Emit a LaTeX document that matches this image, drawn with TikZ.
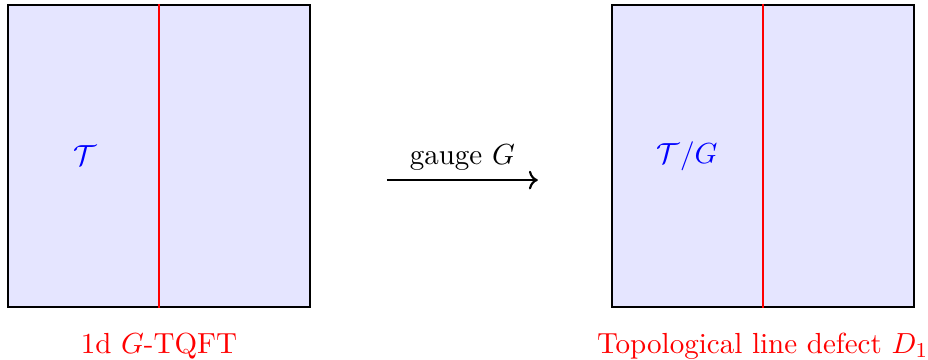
\documentclass[tikz,border=0pt]{standalone}
\usepackage{amsmath}
\usepackage{amssymb}
\usetikzlibrary{positioning, arrows.meta}

\begin{document}
\begin{tikzpicture}[
    every node/.style={font=\fontsize{10.95pt}{13.6pt}\selectfont},
    panel/.style={rectangle, draw, thick, fill=blue!10, minimum size=4cm, inner sep=0pt},
    defect/.style={red, thick},
    arrow/.style={->, thick},
    theory/.style={blue},
    caption/.style={red},
]
    \useasboundingbox (-0.106, -0.70) rectangle (12.19, 4.066);

    % Before gauging
    \node[panel] (before) at (2, 2) {};
    \draw[defect] (before.north) -- (before.south);
    \node[theory] (t) at (1.02, 2) {$\mathcal{T}$};
    \node[caption] (tqft) at (2, -0.52) {1d $G$-TQFT};

    % Gauging map
    \coordinate (g1) at (5.02, 1.68);
    \coordinate (g2) at (7.02, 1.68);
    \draw[arrow] (g1) -- node[above] {gauge $G$} (g2);

    % After gauging
    \node[panel] (after) at (10, 2) {};
    \draw[defect] (after.north) -- (after.south);
    \node[theory] (tg) at (9.0, 2) {$\mathcal{T}/G$};
    \node[caption] (line) at (10.0, -0.52) {Topological line defect $D_1$};
\end{tikzpicture}
\end{document}
